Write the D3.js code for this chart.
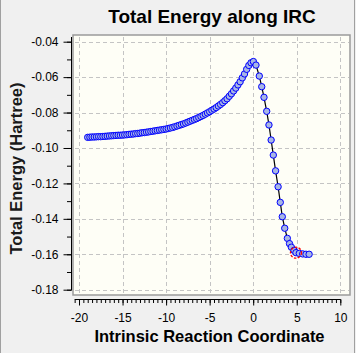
<!DOCTYPE html>
<html>
<head>
<meta charset="utf-8">
<script src="https://cdn.jsdelivr.net/npm/d3@7"></script>
<style>
  body { margin: 0; background: #f0f0f0; }
  svg { display: block; font-family: Arial, "Liberation Sans", sans-serif; }
  .tick text { font-size: 12px; fill: #000; }
  .tick line { stroke: #000; }
  .grid line { stroke: #c4c4c4; stroke-dasharray: 4,3; }
</style>
</head>
<body>
<div id="chart"></div>
<script>
const width = 356
const height = 353

// datos (coordenada IRC, energia en Hartree)
const ircCoord = [
  -19.00, -18.75, -18.50, -18.25, -18.00, -17.75, -17.50, -17.25, -17.00, -16.75,
  -16.50, -16.25, -16.00, -15.75, -15.50, -15.25, -15.00, -14.75, -14.50, -14.25,
  -14.00, -13.75, -13.50, -13.25, -13.00, -12.75, -12.50, -12.25, -12.00, -11.75,
  -11.50, -11.25, -11.00, -10.75, -10.50, -10.25, -10.00, -9.75, -9.50, -9.25,
  -9.00, -8.75, -8.50, -8.25, -8.00, -7.75, -7.50, -7.25, -7.00, -6.75,
  -6.50, -6.25, -6.00, -5.75, -5.50, -5.25, -5.00, -4.75, -4.50, -4.25,
  -4.00, -3.75, -3.50, -3.25, -3.00, -2.75, -2.50, -2.25, -2.00, -1.75,
  -1.50, -1.25, -1.00, -0.75, -0.50, -0.25, 0.02,
  0.32, 0.70, 0.98, 1.24, 1.55, 1.81, 2.06, 2.31, 2.57, 2.86,
  3.11, 3.34, 3.62, 3.92, 4.17, 4.38, 4.68, 4.91, 5.29, 5.68,
  6.06, 6.42
]
const ircEnergy = [
  -0.0940, -0.0939, -0.0938, -0.0938, -0.0937, -0.0936, -0.0936, -0.0935, -0.0934, -0.0933,
  -0.0932, -0.0931, -0.0930, -0.0929, -0.0928, -0.0928, -0.0927, -0.0926, -0.0925, -0.0923,
  -0.0922, -0.0921, -0.0919, -0.0918, -0.0916, -0.0914, -0.0913, -0.0911, -0.0909, -0.0907,
  -0.0905, -0.0903, -0.0901, -0.0899, -0.0897, -0.0895, -0.0893, -0.0890, -0.0887, -0.0884,
  -0.0880, -0.0876, -0.0872, -0.0868, -0.0864, -0.0859, -0.0854, -0.0849, -0.0844, -0.0839,
  -0.0834, -0.0828, -0.0822, -0.0816, -0.0809, -0.0802, -0.0795, -0.0787, -0.0780, -0.0772,
  -0.0763, -0.0754, -0.0744, -0.0733, -0.0722, -0.0708, -0.0694, -0.0678, -0.0662, -0.0644,
  -0.0626, -0.0604, -0.0582, -0.0556, -0.0534, -0.0519, -0.0512,
  -0.0532, -0.0594, -0.0654, -0.0714, -0.0793, -0.0870, -0.0955, -0.1040, -0.1129, -0.1219,
  -0.1307, -0.1388, -0.1453, -0.1510, -0.1540, -0.1560, -0.1578, -0.1591, -0.1595, -0.1598,
  -0.1600, -0.1600
]
const markedPoint = 94   // punto rodeado en rojo

const xTicks = [-20, -15, -10, -5, 0, 5, 10]
const yTicks = [-0.04, -0.06, -0.08, -0.10, -0.12, -0.14, -0.16, -0.18]

const data = ircCoord.map((c, i) => ({ x: c, e: ircEnergy[i] }))

const frame = { left: 73, top: 35, right: 350, bottom: 295 }

// guion normal en lugar del signo menos de d3
const hyphen = f => d => f(d).replace("\u2212", "-")

const svg = d3.select("div#chart")
    .append("svg")
    .attr("width", width)
    .attr("height", height)

svg.append("rect")
  .attr("width", width).attr("height", height)
  .attr("fill", "#f0f0f0")

// borde de la ventana
svg.append("line").attr("x1", 0.5).attr("x2", 0.5).attr("y1", 0).attr("y2", height)
  .attr("stroke", "#a0a0a0")
svg.append("line").attr("x1", 354.5).attr("x2", 354.5).attr("y1", 0).attr("y2", height)
  .attr("stroke", "#a0a0a0")

// Escalas
const x = d3.scaleLinear().domain([-20, 10]).range([79, 340.3])
const y = d3.scaleLinear().domain([-0.04, -0.18]).range([41.7, 289.7])

// Area del grafico
svg.append("rect")
  .attr("x", frame.left).attr("y", frame.top)
  .attr("width", frame.right - frame.left).attr("height", frame.bottom - frame.top)
  .attr("fill", "#fefef6")
  .attr("stroke", "#9a9a9a")
  .attr("stroke-width", 1.5)

const grid = svg.append("g").attr("class", "grid")
grid.selectAll("line.gx").data(xTicks)
  .join("line")
  .attr("class", "gx")
  .attr("x1", d => Math.round(x(d)) + 0.5).attr("x2", d => Math.round(x(d)) + 0.5)
  .attr("y1", frame.top + 2).attr("y2", frame.bottom - 1)
grid.selectAll("line.gy").data(yTicks)
  .join("line")
  .attr("class", "gy")
  .attr("y1", d => Math.round(y(d)) + 0.5).attr("y2", d => Math.round(y(d)) + 0.5)
  .attr("x1", frame.left + 2).attr("x2", frame.right - 1)

// Ejes
const xAxisGroup = svg.append("g").attr("transform", "translate(0, 299.5)")
xAxisGroup.call(d3.axisBottom(x).tickValues(d3.range(-20.5, 10.01, 0.5)).tickSize(3.5).tickFormat(""))
xAxisGroup.call(g => g.select(".domain").remove())
const xMajor = svg.append("g").attr("transform", "translate(0, 299.5)")
xMajor.call(d3.axisBottom(x).tickValues(xTicks).tickSize(6).tickPadding(7.5).tickFormat(hyphen(d3.format("d"))))
xMajor.call(g => g.select(".domain").remove())
svg.append("line")
  .attr("x1", x(-20.5)).attr("x2", x(10) + 0.5)
  .attr("y1", 299.5).attr("y2", 299.5)
  .attr("stroke", "#000")

const yAxisGroup = svg.append("g").attr("transform", "translate(71.5, 0)")
yAxisGroup.call(d3.axisLeft(y).tickValues(d3.range(-0.18, -0.0399, 0.01)).tickSize(4.5).tickFormat(""))
yAxisGroup.call(g => g.select(".domain").remove())
const yMajor = svg.append("g").attr("transform", "translate(71.5, 0)")
yMajor.call(d3.axisLeft(y).tickValues(yTicks).tickSize(8).tickPadding(5).tickFormat(hyphen(d3.format(".2f"))))
yMajor.call(g => g.select(".domain").remove())
svg.append("line")
  .attr("x1", 71.5).attr("x2", 71.5)
  .attr("y1", 37).attr("y2", y(-0.18) + 0.5)
  .attr("stroke", "#000")

// Linea y puntos
const elementGroup = svg.append("g").attr("id", "elementGroup")

elementGroup.append("path")
  .datum(data)
  .attr("fill", "none")
  .attr("stroke", "#000")
  .attr("stroke-width", 1.2)
  .attr("d", d3.line().x(d => x(d.x)).y(d => y(d.e)))

elementGroup.selectAll("circle.pt").data(data)
  .join("circle")
  .attr("class", "pt")
  .attr("cx", d => x(d.x))
  .attr("cy", d => y(d.e))
  .attr("r", 3.2)
  .attr("fill", "#a8b6e4")
  .attr("stroke", "#0000ff")
  .attr("stroke-width", 1)

elementGroup.append("circle")
  .datum(data[markedPoint])
  .attr("cx", d => x(d.x))
  .attr("cy", d => y(d.e))
  .attr("r", 5.5)
  .attr("fill", "none")
  .attr("stroke", "#ff0000")
  .attr("stroke-width", 1.3)
  .attr("stroke-dasharray", "2.5,1.5")

// Textos
svg.append("text")
  .text("Total Energy along IRC")
  .attr("x", 212).attr("y", 23)
  .attr("text-anchor", "middle")
  .attr("font-size", "19px")
  .attr("font-weight", "bold")

svg.append("text")
  .text("Intrinsic Reaction Coordinate")
  .attr("x", 209.5).attr("y", 342)
  .attr("text-anchor", "middle")
  .attr("font-size", "16.5px")
  .attr("font-weight", "bold")

svg.append("text")
  .text("Total Energy (Hartree)")
  .attr("transform", "translate(22, 168.5) rotate(-90)")
  .attr("text-anchor", "middle")
  .attr("font-size", "16.5px")
  .attr("font-weight", "bold")
  .attr("fill", "#1a1a1a")
</script>
</body>
</html>
